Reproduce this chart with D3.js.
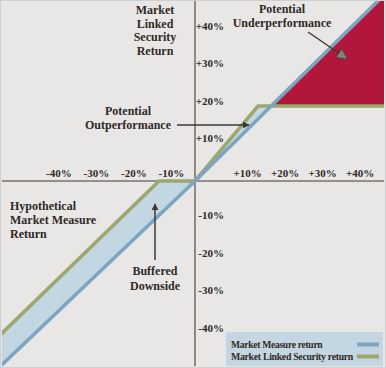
<!DOCTYPE html>
<html><head><meta charset="utf-8">
<script src="https://cdn.jsdelivr.net/npm/d3@7"></script>
<style>
html,body{margin:0;padding:0;background:#fff;}
svg{display:block;}
text{font-family:"Liberation Serif",serif;fill:#2f2926;}
</style></head>
<body>
<svg id="chart" width="386" height="368"></svg>
<script>
// ---- data (percent units) ----
const xTicks = [-40, -30, -20, -10, 10, 20, 30, 40];
const yTicks = [40, 30, 20, 10, -10, -20, -30, -40];
const xTickLabels = ["-40%", "-30%", "-20%", "-10%", "+10%", "+20%", "+30%", "+40%"];
const yTickLabels = ["+40%", "+30%", "+20%", "+10%", "-10%", "-20%", "-30%", "-40%"];
const marketX = [-52, 0, 51];
const marketY = [-49.5, 0, 50.2];
const securityX = [-52, -9.6, 0, 16.8, 51];
const securityY = [-41.1, 0, 0, 20, 20];
const legendLabels = ["Market Measure return", "Market Linked Security return"];

const W = 386, H = 368;
const svg = d3.select("#chart");
const x = d3.scaleLinear().domain([-52, 50.4]).range([0, 384]);
const y = d3.scaleLinear().domain([-49.6, 48.27]).range([367, 0]);

const colBlue = "#7ca5c2", colGreen = "#9ba76c", colFill = "#c3d7e2", colRed = "#b3163b";

// background + frame
svg.append("rect").attr("x", 0.5).attr("y", 0.5).attr("width", W - 1).attr("height", H - 1)
  .attr("fill", "#e9e7e6").attr("stroke", "#d2d0cf");

const defs = svg.append("defs");
defs.append("clipPath").attr("id", "plot").append("rect")
  .attr("x", 2).attr("y", 1).attr("width", 382).attr("height", 365);
defs.append("marker").attr("id", "ah").attr("viewBox", "0 0 10 10")
  .attr("refX", 9).attr("refY", 5).attr("markerWidth", 7).attr("markerHeight", 7)
  .attr("markerUnits", "userSpaceOnUse").attr("orient", "auto")
  .append("path").attr("d", "M0,0L10,5L0,10Z").attr("fill", "#3e3836");
defs.append("marker").attr("id", "ah2").attr("viewBox", "0 0 10 10")
  .attr("refX", 8).attr("refY", 5).attr("markerWidth", 11).attr("markerHeight", 11)
  .attr("markerUnits", "userSpaceOnUse").attr("orient", "auto")
  .append("path").attr("d", "M0,0L10,5L0,10Z").attr("fill", "#8a8280").attr("stroke", "#4a4442").attr("stroke-width", 1);

const market = marketX.map((v, i) => [v, marketY[i]]);
const security = securityX.map((v, i) => [v, securityY[i]]);

// intersection of upper market segment with cap segment
function intersect(a, b, c, d) {
  const den = (a[0]-b[0])*(c[1]-d[1]) - (a[1]-b[1])*(c[0]-d[0]);
  const t = ((a[0]-c[0])*(c[1]-d[1]) - (a[1]-c[1])*(c[0]-d[0])) / den;
  return [a[0] + t*(b[0]-a[0]), a[1] + t*(b[1]-a[1])];
}
const cross = intersect(market[1], market[2], security[3], security[4]);

const line = d3.line().x(d => x(d[0])).y(d => y(d[1]));
const g = svg.append("g").attr("clip-path", "url(#plot)");

// fills
const fillNeg = [security[0], security[1], security[2], market[1], market[0]];
const fillPos = [market[1], security[3], cross];
const red = [cross, market[2], security[4]];
g.append("path").attr("d", line(fillNeg) + "Z").attr("fill", colFill);
g.append("path").attr("d", line(fillPos) + "Z").attr("fill", colFill);
g.append("path").attr("d", line(red) + "Z").attr("fill", colRed);

// axes
const axisCol = "#7b706b";
g.append("line").attr("x1", x(0)).attr("x2", x(0)).attr("y1", 0).attr("y2", H)
  .attr("stroke", axisCol).attr("stroke-width", 1.6);
g.append("line").attr("x1", 0).attr("x2", W).attr("y1", y(0)).attr("y2", y(0))
  .attr("stroke", axisCol).attr("stroke-width", 1.6);

// lines
g.append("path").attr("d", line(security)).attr("fill", "none")
  .attr("stroke", colGreen).attr("stroke-width", 3.6).attr("stroke-linejoin", "miter");
g.append("path").attr("d", line(market)).attr("fill", "none")
  .attr("stroke", colBlue).attr("stroke-width", 3.6);

// tick labels
svg.append("g").selectAll("text").data(xTicks).join("text")
  .attr("x", d => x(d) + 1).attr("y", y(0) - 4)
  .attr("font-size", 11).attr("font-weight", "bold")
  .text((d, i) => xTickLabels[i]);
svg.append("g").selectAll("text").data(yTicks).join("text")
  .attr("x", 224).attr("y", d => y(d) + (d > 0 ? -1.5 : 0.5)).attr("text-anchor", "end")
  .attr("font-size", 11).attr("font-weight", "bold")
  .text((d, i) => yTickLabels[i]);

// annotations
function block(lines, px, py, anchor, lh) {
  const t = svg.append("text").attr("text-anchor", anchor)
    .attr("font-size", 12).attr("font-weight", "bold");
  lines.forEach((s, i) => t.append("tspan").attr("x", px).attr("y", py + i * lh).text(s));
}
block(["Market", "Linked", "Security", "Return"], 155, 14, "middle", 13.7);
block(["Potential", "Outperformance"], 128, 115, "middle", 14);
block(["Potential", "Underperformance"], 282, 13, "middle", 14);
block(["Hypothetical", "Market Measure", "Return"], 10, 210, "start", 14);
block(["Buffered", "Downside"], 155, 275, "middle", 15);

// arrows
svg.append("line").attr("x1", 177).attr("y1", 125).attr("x2", 249).attr("y2", 125)
  .attr("stroke", "#3e3836").attr("stroke-width", 1.5).attr("marker-end", "url(#ah)");
svg.append("line").attr("x1", 155).attr("y1", 260).attr("x2", 155).attr("y2", 204)
  .attr("stroke", "#3e3836").attr("stroke-width", 1.5).attr("marker-end", "url(#ah)");
svg.append("line").attr("x1", 308).attr("y1", 32).attr("x2", 346).attr("y2", 58)
  .attr("stroke", "#3e3836").attr("stroke-width", 1.5).attr("marker-end", "url(#ah2)");

// legend
const lg = svg.append("g");
lg.append("rect").attr("x", 226).attr("y", 332).attr("width", 157).attr("height", 34).attr("fill", "#c3d6e1");
const cols = [colBlue, colGreen];
legendLabels.forEach((s, i) => {
  lg.append("text").attr("x", 231).attr("y", 348 + i * 12).attr("font-size", 9.6)
    .attr("font-weight", "bold").attr("letter-spacing", -0.3)
    .attr("textLength", i === 1 ? 122 : null).attr("lengthAdjust", "spacingAndGlyphs").text(s);
  lg.append("line").attr("x1", 357).attr("x2", 379).attr("y1", 344.5 + i * 12).attr("y2", 344.5 + i * 12)
    .attr("stroke", cols[i]).attr("stroke-width", 4);
});
</script>
</body></html>
